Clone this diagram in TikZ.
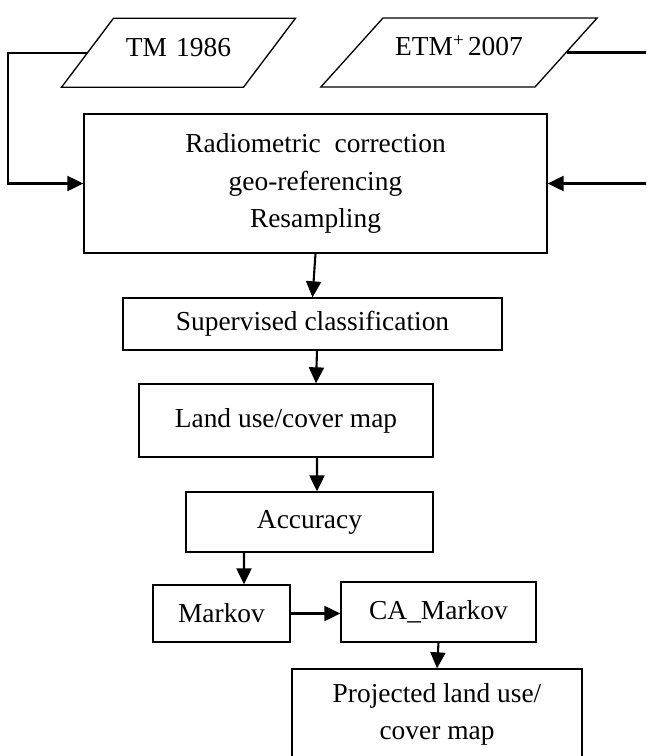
\documentclass[tikz,border=0pt]{standalone}
\usepackage{fontspec}
\setmainfont{Liberation Serif}
\usepackage{tikz}
\usetikzlibrary{shapes.geometric, arrows.meta, positioning, calc}
\tikzstyle{imagery} = [trapezium, trapezium left angle=53, trapezium right angle=127, text height=0.45cm, text depth=0.32cm, inner xsep=0.15cm, inner ysep=0.305cm, align=center, draw=black, line width=0.75pt]
\tikzstyle{process} = [rectangle, draw=black, line width=0.75pt, inner sep=0pt, align=center]
\tikzstyle{arrow} = [line width=1.2pt, -{Triangle[length=0.32cm, width=0.3cm]}]

\begin{document}
\begin{tikzpicture}[font=\fontsize{15.6}{21.5}\selectfont]
\useasboundingbox (0,0) rectangle (12.92,-15.12);
\clip (0,0) rectangle (12.92,-15.12);

% ===== INPUT IMAGES =====
\node (tm) [imagery, text width=2.3cm] at (3.57, -1.055) {TM 1986};
\node (etm) [imagery, text width=2.76cm, inner xsep=0.14cm, trapezium left angle=48, trapezium right angle=132] at (9.18, -1.05) {ETM\textsuperscript{+}\hspace{0.12em}2007};

% ===== PRE-PROCESSING =====
\node (prep) [process, minimum width=9.26cm, minimum height=2.78cm] at (6.31, -3.67) {Radiometric\ \ correction\\geo-referencing\\Resampling};

% ===== CLASSIFICATION =====
\node (classify) [process, minimum width=7.58cm, minimum height=1.04cm] at (6.25, -6.48) {Supervised classification};
\node (lulc) [process, minimum width=5.88cm, minimum height=1.46cm] at (5.72, -8.41) {Land use/cover map};
\node (accuracy) [process, minimum width=4.94cm, minimum height=1.2cm] at (6.19, -10.44) {Accuracy};

% ===== PREDICTION =====
\node (markov) [process, minimum width=2.74cm, minimum height=1.14cm] at (4.43, -12.27) {Markov};
\node (camarkov) [process, minimum width=3.9cm, minimum height=1.2cm] at (8.77, -12.24) {CA\_Markov};
\node (projected) [process, minimum width=5.8cm, minimum height=1.82cm] at (8.74, -14.29) {Projected land use/\\cover map};

% ===== ARROWS =====
% images into pre-processing
\draw [arrow] (tm.west) -- ++(-1.57,0) |- (prep.west);
\draw [arrow] (etm.east) -- ++(1.7,0) |- (prep.east);

% main chain
\draw [arrow] (prep.south) -- (classify.north);
\draw [arrow] ([xshift=0.09cm]classify.south) -- ([xshift=0.6cm]lulc.north);
\draw [arrow] ([xshift=0.62cm]lulc.south) -- ([xshift=0.15cm]accuracy.north);
\draw [arrow] ([xshift=-1.31cm]accuracy.south) -- ([xshift=0.45cm]markov.north);
\draw [arrow] (markov.east) -- (markov.east -| camarkov.west);
\draw [arrow] (camarkov.south) -- (projected.north);

\end{tikzpicture}
\end{document}
